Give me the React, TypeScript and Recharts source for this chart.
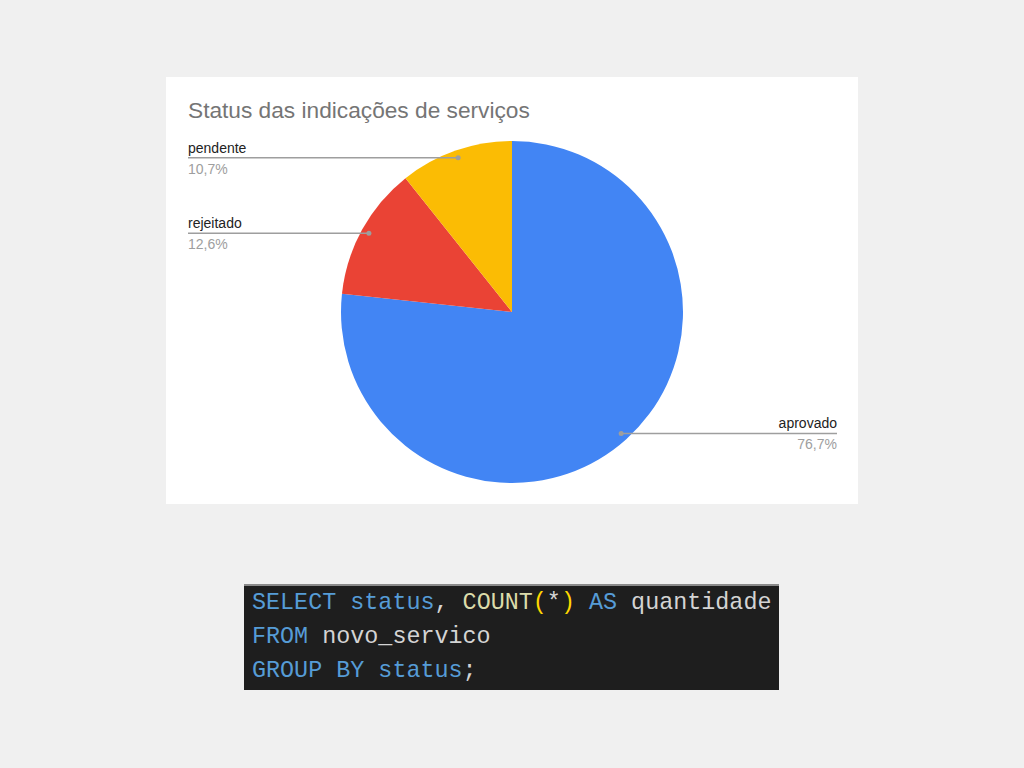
import React from 'react';
import { PieChart, Pie, Cell } from 'recharts';

const statuses = ['aprovado', 'rejeitado', 'pendente'];
const shares = [76.7, 12.6, 10.7];
const colors = ['#4285f4', '#ea4335', '#fbbc04'];

const data = statuses.map((name, i) => ({ name, value: shares[i] }));

const RAD = Math.PI / 180;
const W = 692;
const H = 427;

function fmtPct(p: number) {
  return `${(p * 100).toFixed(1).replace('.', ',')}%`;
}

function renderLabel(props: any) {
  const { cx, cy, midAngle, outerRadius, percent, name } = props;
  const r = outerRadius * 0.955;
  const x = cx + r * Math.cos(-midAngle * RAD);
  const y = cy + r * Math.sin(-midAngle * RAD);
  const left = x < cx;
  const edge = left ? 22 : 671;
  return (
    <g>
      <line x1={x} y1={y} x2={edge} y2={y} stroke="#9e9e9e" strokeWidth={1.5} />
      <circle cx={x} cy={y} r={2.5} fill="#9e9e9e" />
      <text x={edge} y={y - 5} textAnchor={left ? 'start' : 'end'} fontSize={14} fill="#222">
        {name}
      </text>
      <text x={edge} y={y + 16} textAnchor={left ? 'start' : 'end'} fontSize={14} fill="#9e9e9e">
        {fmtPct(percent)}
      </text>
    </g>
  );
}

const kw = { color: '#569cd6' };
const fn = { color: '#dcdcaa' };
const br = { color: '#ffd700' };
const tx = { color: '#d4d4d4' };

export default function App() {
  return (
    <div
      style={{
        position: 'absolute', left: 0, top: 0, width: 1024, height: 768,
        background: '#f0f0f0', fontFamily: '"Liberation Sans", Arial, sans-serif', overflow: 'hidden',
      }}
    >
      <div style={{ position: 'absolute', left: 166, top: 77, width: W, height: H, background: '#fff' }}>
        <div
          style={{
            position: 'absolute', left: 22, top: 20, fontSize: 22.7, lineHeight: '26px',
            color: '#757575', whiteSpace: 'nowrap',
          }}
        >
          Status das indicações de serviços
        </div>
        <PieChart width={W} height={H} style={{ fontFamily: '"Liberation Sans", Arial, sans-serif' }}>
          <Pie
            data={data}
            dataKey="value"
            nameKey="name"
            cx={341}
            cy={230}
            outerRadius={171}
            startAngle={90}
            endAngle={-270}
            stroke="none"
            label={renderLabel}
            labelLine={false}
            isAnimationActive={false}
          >
            {data.map((d, i) => (
              <Cell key={d.name} fill={colors[i]} />
            ))}
          </Pie>
        </PieChart>
      </div>
      <div
        style={{
          position: 'absolute', left: 244, top: 584, width: 535, height: 106, boxSizing: 'border-box',
          background: '#1e1e1e', borderTop: '2px solid #8a8a8a', padding: '0 0 0 8px',
          fontFamily: '"Liberation Mono", "DejaVu Sans Mono", monospace', fontSize: 23.4, lineHeight: '34px',
          whiteSpace: 'pre',
        }}
      >
        <div>
          <span style={kw}>SELECT</span> <span style={kw}>status</span><span style={tx}>, </span>
          <span style={fn}>COUNT</span><span style={br}>(</span><span style={tx}>*</span><span style={br}>)</span>{' '}
          <span style={kw}>AS</span> <span style={tx}>quantidade</span>
        </div>
        <div>
          <span style={kw}>FROM</span> <span style={tx}>novo_servico</span>
        </div>
        <div>
          <span style={kw}>GROUP BY</span> <span style={kw}>status</span><span style={tx}>;</span>
        </div>
      </div>
    </div>
  );
}
